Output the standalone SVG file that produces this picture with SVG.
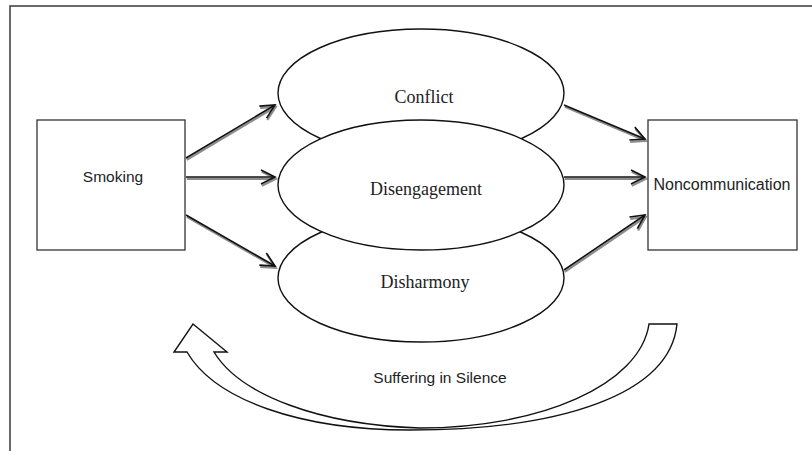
<svg xmlns="http://www.w3.org/2000/svg" width="812" height="451" viewBox="0 0 812 451">
<style>
  .frame{fill:none;stroke:#3a3a3a;stroke-width:1.5}
  .box{fill:#fff;stroke:#333;stroke-width:1.3}
  .ell{fill:#fff;stroke:#111;stroke-width:1.4}
  .sans{font-family:"Liberation Sans","Lato",Arial,sans-serif;fill:#222;text-anchor:middle}
  .serif{font-family:"Liberation Serif","DejaVu Serif",serif;fill:#222;text-anchor:middle;font-size:18px}
  .shadow{fill:none;stroke:#8c8c8c;stroke-width:2.2;marker-end:url(#headGray)}
  .line{fill:none;stroke:#111;stroke-width:1.6;marker-end:url(#head)}
  .big{fill:#fff;stroke:#111;stroke-width:1.4;stroke-linejoin:miter}
</style>
<defs>
  <marker id="head" markerUnits="userSpaceOnUse" markerWidth="18" markerHeight="18" viewBox="-2 -2 18 18" refX="14" refY="7" orient="auto">
    <path d="M0,0 L14,7 L0,14" fill="none" stroke="#111" stroke-width="1.6"/>
  </marker>
  <marker id="headGray" markerUnits="userSpaceOnUse" markerWidth="18" markerHeight="18" viewBox="-2 -2 18 18" refX="14" refY="7" orient="auto">
    <path d="M0,0 L14,7 L0,14" fill="none" stroke="#8c8c8c" stroke-width="2.2"/>
  </marker>
</defs>
<rect width="812" height="451" fill="#fff"/>
<path class="frame" d="M812,6 L10,6 L10,451"/>

<g id="connectors">
  <g transform="translate(0.8,1.8)">
    <path class="shadow" d="M186,158 L275,105"/>
    <path class="shadow" d="M186,177 L275,177"/>
    <path class="shadow" d="M186,215 L275,266"/>
    <path class="shadow" d="M564,105 L645,139"/>
    <path class="shadow" d="M564,177 L645,177"/>
    <path class="shadow" d="M564,270 L645,215"/>
  </g>
  <path class="line" d="M186,158 L275,105"/>
  <path class="line" d="M186,177 L275,177"/>
  <path class="line" d="M186,215 L275,266"/>
  <path class="line" d="M564,105 L645,139"/>
  <path class="line" d="M564,177 L645,177"/>
  <path class="line" d="M564,270 L645,215"/>
</g>

<g id="smoking">
  <rect class="box" x="37" y="120" width="148" height="130"/>
  <text class="sans" x="113" y="182" font-size="15.5">Smoking</text>
</g>

<g id="noncommunication">
  <rect class="box" x="648" y="120" width="149" height="130"/>
  <text class="sans" x="722" y="190" font-size="16">Noncommunication</text>
</g>

<g id="conflict">
  <ellipse class="ell" cx="421" cy="93" rx="143" ry="64"/>
  <text class="serif" x="424" y="103">Conflict</text>
</g>

<g id="disharmony">
  <ellipse class="ell" cx="421" cy="278" rx="143" ry="64"/>
  <text class="serif" x="425" y="288">Disharmony</text>
</g>

<g id="disengagement">
  <ellipse class="ell" cx="421" cy="185" rx="143" ry="65"/>
  <text class="serif" x="426" y="195">Disengagement</text>
</g>

<g id="suffering">
  <path class="big" d="M193,324 L227,352 L214,352 C240,395 320,425 420,428 C540,428 640,385 649,324 L677,324 C670,395 560,430 410,430 C300,430 215,400 187,352 L174,352 Z"/>
  <text class="sans" x="440" y="383" font-size="15.5">Suffering in Silence</text>
</g>
</svg>
